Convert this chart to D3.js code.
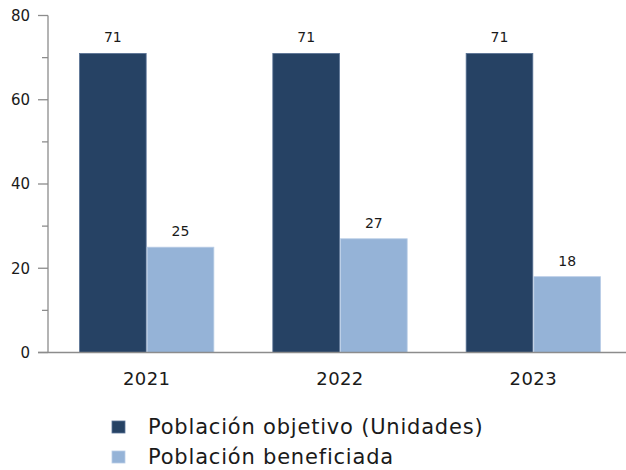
<!DOCTYPE html>
<html>
<head>
<meta charset="utf-8">
<script src="https://cdn.jsdelivr.net/npm/d3@7"></script>
<style>
  body { margin: 0; background: #fff; }
  text { font-family: "DejaVu Sans", sans-serif; fill: #1a1a1a; }
</style>
</head>
<body>
<div id="container"></div>
<script>
// datos
const years = ["2021", "2022", "2023"]
const seriesNames = ["Población objetivo (Unidades)", "Población beneficiada"]
const objetivo = [71, 71, 71]
const beneficiada = [25, 27, 18]
const yTicks = [0, 20, 40, 60, 80]

const colores = ["#264264", "#95b3d7"]
const bordes = ["#5a7396", "#b9cde6"]

const width = 626, height = 470
const y0 = 352.5, yTop = 15.5

const svg = d3.select("#container").append("svg")
  .attr("width", width)
  .attr("height", height)

const axisX = 48

const x = d3.scaleBand()
  .domain(years)
  .range([50, 630])
  .paddingInner(0.305)
  .paddingOuter(0.1525)

const xSub = d3.scaleBand()
  .domain([0, 1])
  .range([0, x.bandwidth()])
  .paddingInner(0.015)

const y = d3.scaleLinear()
  .domain([0, 80])
  .range([y0, yTop])

const data = years.map((yr, i) => ({ yr, vals: [objetivo[i], beneficiada[i]] }))

// barras
const grupos = svg.append("g").selectAll("g")
  .data(data)
  .join("g")
  .attr("transform", d => `translate(${x(d.yr)},0)`)

grupos.selectAll("rect")
  .data(d => d.vals)
  .join("rect")
  .attr("x", (d, i) => xSub(i))
  .attr("y", d => y(d))
  .attr("width", xSub.bandwidth())
  .attr("height", d => y(0) - y(d))
  .attr("fill", (d, i) => colores[i])
  .attr("stroke", (d, i) => bordes[i])
  .attr("stroke-width", 0.8)

grupos.selectAll("text")
  .data(d => d.vals)
  .join("text")
  .attr("x", (d, i) => xSub(i) + xSub.bandwidth() / 2)
  .attr("y", d => y(d) - 11)
  .attr("text-anchor", "middle")
  .style("font-size", "14px")
  .text(d => d)

// eje y
const axisColor = "#8c8c8c"
const gy = svg.append("g")
gy.append("line")
  .attr("x1", axisX).attr("x2", axisX)
  .attr("y1", y(80)).attr("y2", y(0))
  .attr("stroke", axisColor).attr("stroke-width", 1.3)

gy.selectAll("line.tick")
  .data(d3.range(0, 81, 10))
  .join("line")
  .attr("class", "tick")
  .attr("x1", d => yTicks.includes(d) ? axisX - 10 : axisX - 6)
  .attr("x2", axisX)
  .attr("y1", d => y(d)).attr("y2", d => y(d))
  .attr("stroke", axisColor).attr("stroke-width", 1.3)

gy.selectAll("text")
  .data(yTicks)
  .join("text")
  .attr("x", axisX - 18)
  .attr("y", d => y(d))
  .attr("dy", "0.35em")
  .attr("text-anchor", "end")
  .style("font-size", "15px")
  .text(d => d)

// eje x
svg.append("line")
  .attr("x1", axisX - 10).attr("x2", width)
  .attr("y1", y(0)).attr("y2", y(0))
  .attr("stroke", axisColor).attr("stroke-width", 1.3)

svg.append("g").selectAll("text")
  .data(years)
  .join("text")
  .attr("x", d => x(d) + x.bandwidth() / 2)
  .attr("y", 379)
  .attr("dy", "0.35em")
  .attr("text-anchor", "middle")
  .style("font-size", "18px")
  .style("letter-spacing", "0.4px")
  .text(d => d)

// leyenda
const leyenda = svg.append("g").selectAll("g")
  .data(seriesNames)
  .join("g")
  .attr("transform", (d, i) => `translate(112,${421 + i * 30})`)

leyenda.append("rect")
  .attr("width", 13).attr("height", 12)
  .attr("fill", (d, i) => colores[i])
  .attr("stroke", (d, i) => bordes[i])
  .attr("stroke-width", 0.8)

leyenda.append("text")
  .attr("x", 36)
  .attr("y", 6)
  .attr("dy", "0.35em")
  .style("font-size", "21px")
  .style("letter-spacing", "0.8px")
  .text(d => d)
</script>
</body>
</html>
